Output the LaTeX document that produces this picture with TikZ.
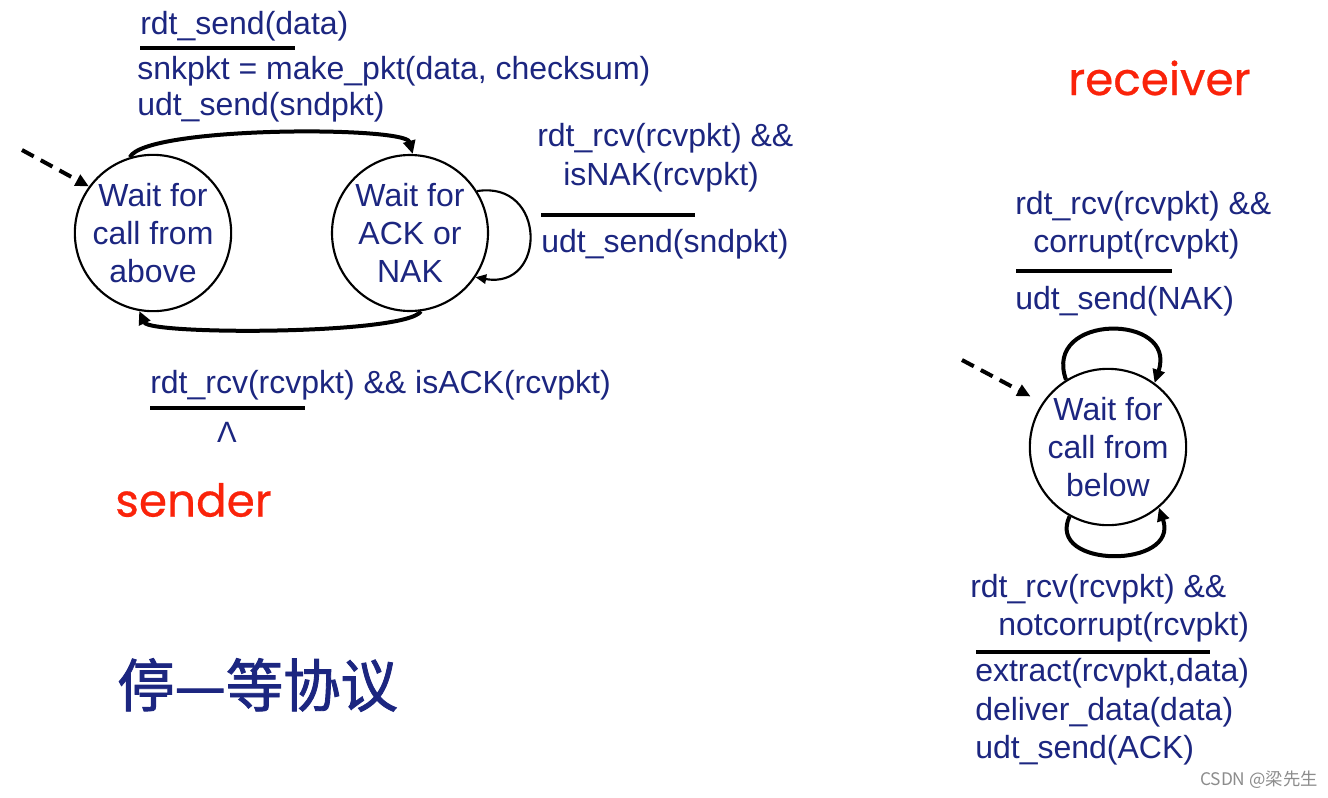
\documentclass[tikz,border=0pt]{standalone}
\usepackage{fontspec}
\setmainfont{Liberation Sans}
\newfontfamily\cjk{Noto Sans CJK SC}
\newfontfamily\cjkb{Noto Sans CJK SC}[FakeBold=1.5]
\newfontfamily\comic{Poppins}[FakeBold=0.6]
\usetikzlibrary{arrows.meta}
\definecolor{navy}{RGB}{28,38,128}
\definecolor{redlbl}{RGB}{250,35,10}
\definecolor{wmgray}{RGB}{140,140,140}
\begin{document}
\begin{tikzpicture}[x=0.75pt,y=-0.75pt,
  lbl/.style={anchor=base west, inner sep=0pt, text=navy, font=\fontsize{24}{28}\selectfont},
  statenode/.style={draw, line width=1.6pt, circle, minimum size=117pt, inner sep=0pt, align=center, text=navy, font=\fontsize{24}{28.5}\selectfont},
  bar/.style={line width=3pt},
  trans/.style={line width=3pt, -{Triangle[length=10pt,width=9pt]}},
  thinloop/.style={line width=1.6pt, -{Triangle[length=8pt,width=7pt]}},
  init/.style={line width=3pt, dash pattern=on 10pt off 6pt, -{Triangle[length=10pt,width=9pt]}},
  title/.style={inner sep=0pt, text=redlbl, font=\comic\fontsize{34}{38}\selectfont}
]
\useasboundingbox (0,0) rectangle (1328,797);
\fill[white] (0,0) rectangle (1328,797);

% sender states
\node[statenode] (s1) at (153,233) {Wait for\\call from\\above};
\node[statenode] (s2) at (410,233) {Wait for\\ACK or\\NAK};

% sender labels
\node[lbl] (l1) at (140,34) {rdt\_send(data)};
\draw[bar] (140,48) -- (295,48);
\node[lbl] (l2) at (137,79) {snkpkt = make\_pkt(data, checksum)};
\node[lbl] (l3) at (137,115) {udt\_send(sndpkt)};

\node[lbl] (l4) at (537,146) {rdt\_rcv(rcvpkt) \&\&};
\node[lbl] (l5) at (563,185) {isNAK(rcvpkt)};
\draw[bar] (541,215) -- (695,215);
\node[lbl] (l6) at (541,252) {udt\_send(sndpkt)};

\node[lbl] (l7) at (150,393) {rdt\_rcv(rcvpkt) \&\& isACK(rcvpkt)};
\draw[bar] (150,408) -- (305,408);
\node[inner sep=0pt, text=navy, font=\fontsize{22}{26}\selectfont] (lam) at (227,432) {Λ};

% sender transitions
\coordinate (d1) at (22,150);
\draw[init] (d1) -- (s1.144);
\draw[trans] (s1.107) .. controls (145,126) and (405,126) .. (s2.88);
\draw[trans] (s2.-82) .. controls (405,335) and (150,335) .. (s1.-100);
\draw[thinloop] (s2.32) .. controls (547,180) and (547,290) .. (s2.-34);

\node[title, anchor=west] (snd) at (115,500) {sender};
\node[title, anchor=west] (rcv) at (1068,78) {receiver};

\node[inner sep=0pt, anchor=west, text=navy, font=\cjkb\fontsize{43}{47}\selectfont] (zh) at (117,685) {停—等协议};

% receiver
\node[statenode] (r1) at (1108,447) {Wait for\\call from\\below};
\coordinate (d2) at (962,360);
\draw[init, shorten >=10pt] (d2) -- (r1.146);
\draw[trans] (r1.122) .. controls (1042,313) and (1178,313) .. (r1.54);
\draw[trans] (r1.-119) .. controls (1045,569) and (1180,569) .. (r1.-50);

\node[lbl] (r_l1) at (1015,214) {rdt\_rcv(rcvpkt) \&\&};
\node[lbl] (r_l2) at (1033,252) {corrupt(rcvpkt)};
\draw[bar] (1016,271) -- (1172,271);
\node[lbl] (r_l3) at (1015,309) {udt\_send(NAK)};

\node[lbl] (r_l4) at (970,597) {rdt\_rcv(rcvpkt) \&\&};
\node[lbl] (r_l5) at (998,635) {notcorrupt(rcvpkt)};
\draw[bar] (976,652) -- (1210,652);
\node[lbl] (r_l6) at (975,681) {extract(rcvpkt,data)};
\node[lbl] (r_l7) at (975,720) {deliver\_data(data)};
\node[lbl] (r_l8) at (975,758) {udt\_send(ACK)};

\node[anchor=base east, inner sep=0pt, text=wmgray, font=\cjk\fontsize{13}{15}\selectfont] (wm) at (1318,785) {CSDN @梁先生};
\end{tikzpicture}
\end{document}
